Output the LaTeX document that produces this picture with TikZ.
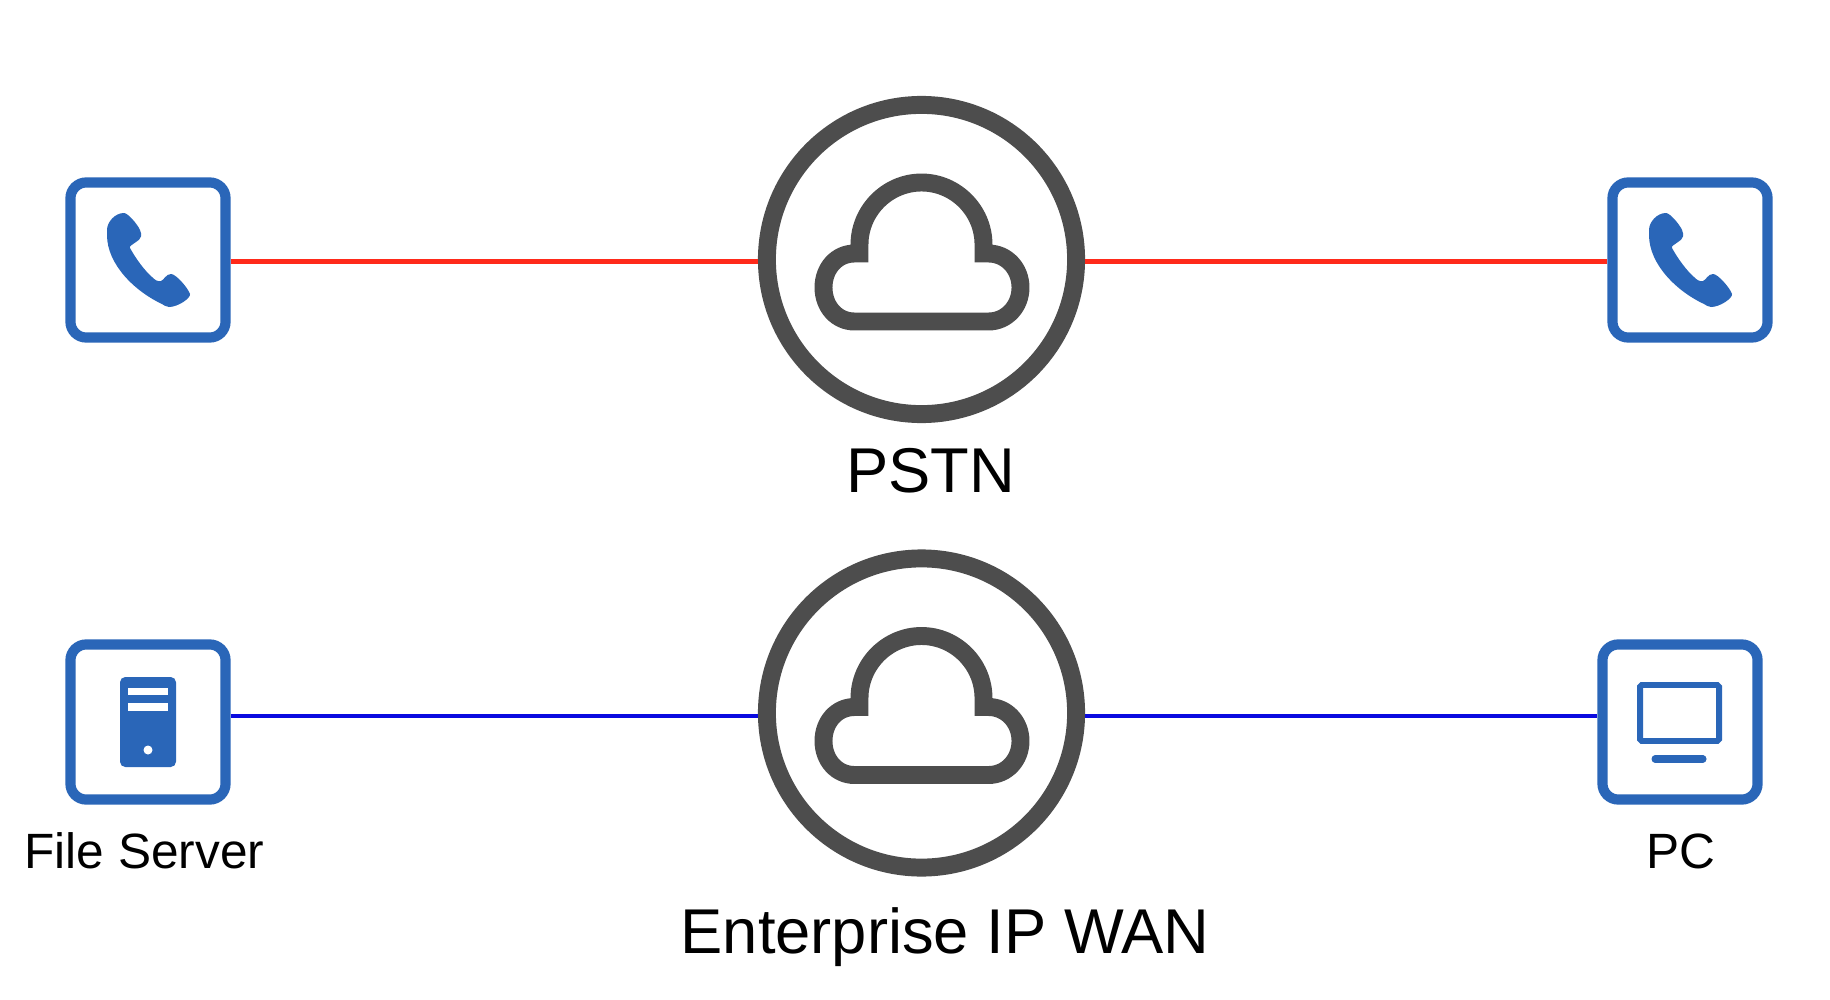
\documentclass[tikz,border=0pt]{standalone}
\usepackage{fontspec}
\setmainfont{Liberation Sans}
\usepackage{xcolor}
\definecolor{iconblue}{HTML}{2A66B8}
\definecolor{cloudgray}{HTML}{4D4D4D}
\definecolor{pstnred}{HTML}{FF2A1A}
\definecolor{wanblue}{HTML}{0A0AE0}
\tikzset{
  devbox/.style={draw=iconblue, line width=2.9pt, rounded corners=4.5pt, minimum size=1.55cm, inner sep=0pt, fill=white},
  netring/.style={draw=cloudgray, circle, line width=5.1pt, minimum size=3.09cm, inner sep=0pt, fill=white},
  devlabel/.style={font=\fontsize{14.1}{16}\selectfont, inner sep=0pt, anchor=base},
  netlabel/.style={font=\fontsize{18}{20}\selectfont, inner sep=0pt, anchor=base},
  pstnline/.style={draw=pstnred, line width=1.6pt},
  wanline/.style={draw=wanblue, line width=1.35pt}
}
% Handset and cloud, drawn around the centre of a named node
\newcommand{\handset}[1]{%
  \fill[iconblue, shift={(#1.center)}]
    (-41,-30) .. controls (-41,-38) and (-33,-47) .. (-24,-47)
    .. controls (-20,-47) and (-10,-35) .. (-8,-30)
    .. controls (-6,-25) and (-6,-22) .. (-12,-18)
    .. controls (-16,-15) and (-19,-14) .. (-18,-12)
    .. controls (-12,-1) and (-3,11) .. (4,17)
    .. controls (7,20) and (10,22) .. (13,21)
    .. controls (16,20) and (18,14) .. (23,14)
    .. controls (28,14) and (40,28) .. (42,34)
    .. controls (43,38) and (30,47) .. (21,47)
    .. controls (18,47) and (16,45) .. (14,44)
    .. controls (-12,32) and (-41,5) .. (-41,-25)
    -- cycle;}
\newcommand{\cloudicon}[1]{%
  \draw[cloudgray, line width=5.1pt, shift={(#1.center)}]
    (-62,-6) -- (-62,-15)
    .. controls (-62,-49) and (-34,-77) .. (0,-77)
    .. controls (34,-77) and (62,-49) .. (62,-15)
    -- (62,-6) -- (67,-6)
    .. controls (85,-6) and (99,9) .. (99,28)
    .. controls (99,47) and (85,62) .. (67,62)
    -- (-67,62)
    .. controls (-85,62) and (-98,47) .. (-98,28)
    .. controls (-98,9) and (-85,-6) .. (-67,-6)
    -- cycle;}

\begin{document}
\begin{tikzpicture}[x=0.01cm, y=-0.01cm]
\useasboundingbox (0,0) rectangle (1830,1000);

% Clouds
\node[netring] (pstn) at (921.5,259.5) {};
\node[netring] (wan) at (921.5,713) {};
\cloudicon{pstn}
\cloudicon{wan}

% Device boxes
\node[devbox] (phoneA) at (148,260) {};
\node[devbox] (phoneB) at (1690,260) {};
\node[devbox] (server) at (148,722) {};
\node[devbox] (pc) at (1680,722) {};

% Links
\coordinate (pstnlink) at (921.5,261.5);
\coordinate (wanlink) at (921.5,716);
\draw[pstnline] (phoneA.east |- pstnlink) -- (pstn.west |- pstnlink);
\draw[pstnline] (pstn.east |- pstnlink) -- (phoneB.west |- pstnlink);
\draw[wanline] (server.east |- wanlink) -- (wan.west |- wanlink);
\draw[wanline] (wan.east |- wanlink) -- (pc.west |- wanlink);

% Icons
\handset{phoneA}
\handset{phoneB}

\fill[iconblue, rounded corners=1.5pt] (120,677) rectangle (176,767);
\fill[white] (128,688) rectangle (168,695);
\fill[white] (128,703) rectangle (168,711);
\fill[white] (148,750) circle (4.5);

\draw[iconblue, line width=1.7pt, rounded corners=0.5pt] (1640,685) rectangle (1719,741);
\draw[iconblue, line width=2pt, line cap=round] (1655,759) -- (1703,759);

% Labels
\node[netlabel] (pstnlabel) at (930.5,492) {PSTN};
\node[netlabel] (wanlabel) at (945,953) {Enterprise IP WAN};
\node[devlabel] (serverlabel) at (144.5,868) {File Server};
\node[devlabel] (pclabel) at (1681,868) {PC};
\end{tikzpicture}
\end{document}
